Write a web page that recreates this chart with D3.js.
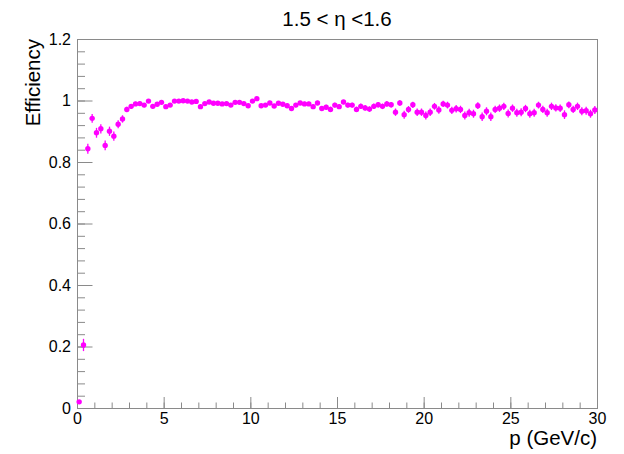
<!DOCTYPE html>
<html>
<head>
<meta charset="utf-8">
<script src="https://cdn.jsdelivr.net/npm/d3@7"></script>
<style>
  body { margin: 0; background: #fff; }
  svg text { font-family: "Liberation Sans", Arial, Helvetica, sans-serif; fill: #000; }
</style>
</head>
<body>
<svg id="chart" width="624" height="454"></svg>
<script>
// bin centres (GeV/c)
var pCenters = [
  0.125, 0.375, 0.625, 0.875, 1.125, 1.375, 1.625, 1.875, 2.125, 2.375,
  2.625, 2.875, 3.125, 3.375, 3.625, 3.875, 4.125, 4.375, 4.625, 4.875,
  5.125, 5.375, 5.625, 5.875, 6.125, 6.375, 6.625, 6.875, 7.125, 7.375,
  7.625, 7.875, 8.125, 8.375, 8.625, 8.875, 9.125, 9.375, 9.625, 9.875,
  10.125, 10.375, 10.625, 10.875, 11.125, 11.375, 11.625, 11.875, 12.125, 12.375,
  12.625, 12.875, 13.125, 13.375, 13.625, 13.875, 14.125, 14.375, 14.625, 14.875,
  15.125, 15.375, 15.625, 15.875, 16.125, 16.375, 16.625, 16.875, 17.125, 17.375,
  17.625, 17.875, 18.125, 18.375, 18.625, 18.875, 19.125, 19.375, 19.625, 19.875,
  20.125, 20.375, 20.625, 20.875, 21.125, 21.375, 21.625, 21.875, 22.125, 22.375,
  22.625, 22.875, 23.125, 23.375, 23.625, 23.875, 24.125, 24.375, 24.625, 24.875,
  25.125, 25.375, 25.625, 25.875, 26.125, 26.375, 26.625, 26.875, 27.125, 27.375,
  27.625, 27.875, 28.125, 28.375, 28.625, 28.875, 29.125, 29.375, 29.625, 29.875
];

// efficiency per bin
var efficiency = [
  0.020, 0.205, 0.843, 0.942, 0.895, 0.908, 0.854, 0.900, 0.884, 0.923,
  0.940, 0.971, 0.981, 0.989, 0.990, 0.985, 0.998, 0.981, 0.988, 0.994,
  0.980, 0.985, 0.998, 0.998, 0.999, 0.998, 0.995, 0.997, 0.980, 0.990,
  0.995, 0.991, 0.991, 0.989, 0.990, 0.985, 0.994, 0.994, 0.990, 0.983,
  0.998, 1.006, 0.983, 0.985, 0.992, 0.982, 0.991, 0.988, 0.983, 0.974,
  0.985, 0.992, 0.989, 0.989, 0.980, 0.992, 0.974, 0.978, 0.971, 0.985,
  0.980, 0.995, 0.985, 0.985, 0.971, 0.981, 0.976, 0.972, 0.981, 0.986,
  0.981, 0.989, 0.986, 0.962, 0.992, 0.954, 0.971, 0.986, 0.962, 0.962,
  0.951, 0.962, 0.981, 0.969, 0.989, 0.985, 0.968, 0.973, 0.971, 0.951,
  0.960, 0.957, 0.983, 0.947, 0.965, 0.947, 0.971, 0.975, 0.981, 0.958,
  0.975, 0.960, 0.962, 0.974, 0.957, 0.960, 0.985, 0.971, 0.960, 0.981,
  0.976, 0.975, 0.954, 0.986, 0.971, 0.981, 0.965, 0.967, 0.957, 0.969
];

// vertical error per bin
var errors = [
  0.006, 0.020, 0.016, 0.014, 0.016, 0.015, 0.016, 0.015, 0.015, 0.013,
  0.012, 0.009, 0.008, 0.007, 0.007, 0.007, 0.005, 0.006, 0.006, 0.005,
  0.006, 0.005, 0.004, 0.004, 0.004, 0.004, 0.005, 0.004, 0.006, 0.005,
  0.005, 0.005, 0.005, 0.005, 0.005, 0.006, 0.005, 0.005, 0.005, 0.006,
  0.005, 0.004, 0.006, 0.006, 0.006, 0.006, 0.006, 0.006, 0.007, 0.008,
  0.007, 0.006, 0.007, 0.007, 0.008, 0.007, 0.008, 0.008, 0.009, 0.008,
  0.008, 0.007, 0.008, 0.008, 0.009, 0.009, 0.009, 0.009, 0.009, 0.009,
  0.009, 0.009, 0.009, 0.012, 0.009, 0.013, 0.011, 0.010, 0.012, 0.012,
  0.013, 0.012, 0.011, 0.012, 0.010, 0.011, 0.012, 0.012, 0.012, 0.013,
  0.013, 0.013, 0.011, 0.014, 0.013, 0.014, 0.012, 0.012, 0.012, 0.013,
  0.012, 0.013, 0.013, 0.012, 0.013, 0.013, 0.011, 0.012, 0.013, 0.012,
  0.012, 0.012, 0.014, 0.011, 0.012, 0.012, 0.013, 0.013, 0.013, 0.013
];

var xTicks = [0, 5, 10, 15, 20, 25, 30];
var yTicks = [0, 0.2, 0.4, 0.6, 0.8, 1, 1.2];
var yTickLabels = ['0', '0.2', '0.4', '0.6', '0.8', '1', '1.2'];

var chartTitle = '1.5 < \u03b7 <1.6';
var xTitle = 'p (GeV/c)';
var yTitle = 'Efficiency';

var margin = {top: 39, right: 27, bottom: 46, left: 77}
    ,width  = 624 - margin.left - margin.right
    ,height = 454 - margin.top - margin.bottom;

var svg = d3.select('#chart');
var g = svg.append('g')
           .attr('transform', 'translate(' + margin.left + ',' + margin.top + ')');

var x = d3.scaleLinear().domain([0, 30]).range([0, width]);
var y = d3.scaleLinear().domain([0, 1.2]).range([height, 0]);

var frameColor = '#8a8a8a';

// frame
g.append('rect')
 .attr('x', 0.5).attr('y', 0.5)
 .attr('width', width).attr('height', height)
 .attr('fill', 'none')
 .attr('stroke', frameColor)
 .attr('stroke-width', 1);

// x axis: ROOT style, ticks point inward
var xAxis = d3.axisBottom(x)
              .tickValues(xTicks)
              .tickSize(-11)
              .tickPadding(16)
              .tickFormat(d3.format('d'));
var xMinor = d3.axisBottom(x)
               .ticks(30)
               .tickSize(-5.5)
               .tickFormat('');

g.append('g').attr('class', 'x minor')
 .attr('transform', 'translate(0,' + height + ')')
 .call(xMinor);
g.append('g').attr('class', 'x axis')
 .attr('transform', 'translate(0,' + height + ')')
 .call(xAxis);

// y axis
var yAxis = d3.axisLeft(y)
              .tickValues(yTicks)
              .tickSize(-15.5)
              .tickPadding(6)
              .tickFormat(function(d, i) { return yTickLabels[i]; });
var yMinor = d3.axisLeft(y)
               .tickValues(d3.range(0, 31).map(function(i) { return i * 0.04; }))
               .tickSize(-8)
               .tickFormat('');

g.append('g').attr('class', 'y minor').call(yMinor);
g.append('g').attr('class', 'y axis').call(yAxis);

g.selectAll('.domain').remove();
g.selectAll('.tick line')
 .attr('stroke', frameColor)
 .attr('stroke-width', 1);
g.selectAll('.tick text')
 .style('font-size', '16px')
 .attr('fill', '#000');
// baseline just below the frame, like ROOT labels
g.selectAll('.x.axis .tick text').attr('dy', '0');

// data
var points = pCenters.map(function(p, i) {
  return {p: p, eff: efficiency[i], err: errors[i]};
});

var markColor = '#ff00ff';

g.append('g').attr('class', 'errors')
 .selectAll('line')
 .data(points).enter()
   .append('line')
   .attr('x1', function(d) { return x(d.p); })
   .attr('x2', function(d) { return x(d.p); })
   .attr('y1', function(d) { return y(d.eff - d.err); })
   .attr('y2', function(d) { return y(d.eff + d.err); })
   .attr('stroke', markColor)
   .attr('stroke-width', 1.3);

g.append('g').attr('class', 'markers')
 .selectAll('circle')
 .data(points).enter()
   .append('circle')
   .attr('cx', function(d) { return x(d.p); })
   .attr('cy', function(d) { return y(d.eff); })
   .attr('r', 2.7)
   .attr('fill', markColor);

// titles
svg.append('text')
   .attr('x', 337)
   .attr('y', 26)
   .attr('text-anchor', 'middle')
   .style('font-size', '20.5px')
   .text(chartTitle);

svg.append('text')
   .attr('x', margin.left + width)
   .attr('y', 445)
   .attr('text-anchor', 'end')
   .style('font-size', '20.5px')
   .text(xTitle);

svg.append('text')
   .attr('transform', 'translate(40,' + margin.top + ') rotate(-90)')
   .attr('text-anchor', 'end')
   .style('font-size', '20.5px')
   .text(yTitle);
</script>
</body>
</html>
